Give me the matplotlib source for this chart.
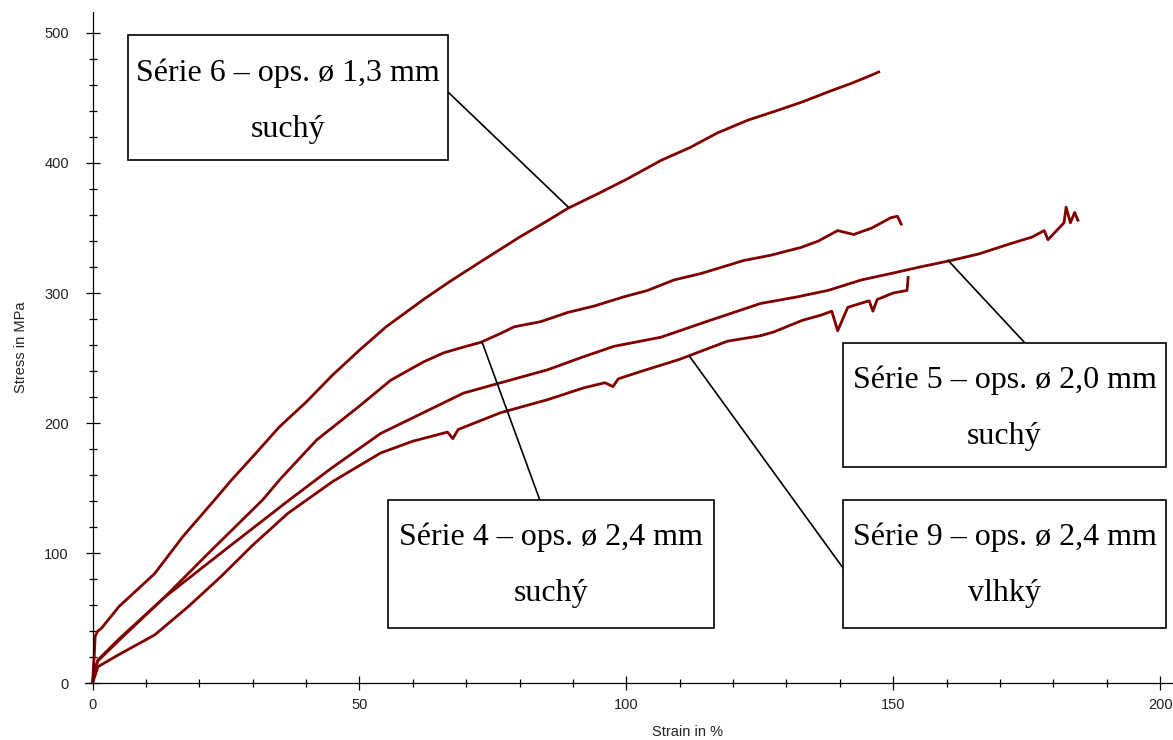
import matplotlib
matplotlib.use('Agg')
import matplotlib.pyplot as plt
from matplotlib.patches import Rectangle
from matplotlib.ticker import MultipleLocator

# Série 6 - ops. 1,3 mm suchý
strain_s6 = [0, 0.3, 0.5, 1.0, 1.65, 5, 11.6, 17, 22.9, 26, 30, 35, 40, 45, 50, 55, 62, 67, 72.7,
             80, 85, 89, 95, 100.3, 106.5, 112, 117, 122.8, 128, 133, 138, 142, 145, 147.3]
stress_s6 = [0, 20, 36, 40, 42, 59, 84, 113, 141, 156, 174, 197, 216, 237, 256, 274, 295, 309, 324,
             343, 355, 365, 377, 388, 402, 412, 423, 433, 440, 447, 455, 461, 466, 470]

# Série 4 - ops. 2,4 mm suchý
strain_s4 = [0, 0.3, 1, 5, 13.5, 22, 31.9, 35.2, 42, 50, 55.9, 62, 65.8, 70, 72.7, 76.5, 79, 84, 89,
             94, 99.5, 104, 108.9, 114, 122, 127, 132.7, 136, 139.6, 142.6, 146, 149.6, 150.8, 151.5]
stress_s4 = [0, 8, 17.7, 34, 66, 101, 141, 157, 187, 213, 233, 247, 254, 259, 262, 269, 274, 278, 285,
             290, 297, 302, 310, 315, 325, 329, 335, 340, 348, 345, 350, 358, 359, 353]

# Série 5 - ops. 2,0 mm suchý
strain_s5 = [0, 0.3, 1, 5, 13.5, 25, 36.6, 45, 54, 62, 69.5, 76.5, 85.3, 92, 97.7, 106.5, 115, 125.2,
             132, 137.8, 144, 149.6, 155, 160.8, 166, 172, 176, 178.3, 179, 182, 182.4, 183.2, 184, 184.6]
stress_s5 = [0, 8, 17, 33, 66, 103, 140, 166, 192, 208, 223, 231, 241, 251, 259, 266, 278, 292,
             297, 302, 310, 315, 320, 325, 330, 338, 343, 348, 341, 354, 366, 354, 362, 356]

# Série 9 - ops. 2,4 mm vlhký
strain_s9 = [0, 0.5, 1, 5, 11.65, 18, 24.1, 30, 36.6, 45, 54, 60, 66.5, 67.5, 68.5, 76.5, 85.3, 92, 96,
             97.5, 98.5, 103, 110, 119, 125, 127.6, 133, 136.5, 138.5, 139.6, 141.5, 145.5, 146.2, 147,
             150, 152.6, 152.8]
stress_s9 = [0, 6, 12.5, 22, 37, 59, 82, 106, 130.5, 155, 177, 186, 193, 188, 195, 208, 218, 227, 231,
             228, 234, 240, 249, 263, 267, 270, 279, 283, 286, 271, 289, 294, 286, 295,
             300, 302, 312]

labels = [('Série 6 – ops. ø 1,3 mm', 'suchý'),
          ('Série 5 – ops. ø 2,0 mm', 'suchý'),
          ('Série 4 – ops. ø 2,4 mm', 'suchý'),
          ('Série 9 – ops. ø 2,4 mm', 'vlhký')]

fig = plt.figure(figsize=(11.73, 7.4), dpi=100)
ax = fig.add_axes([0.0725, 0.077, 0.9274, 0.9074])

for x, y in [(strain_s6, stress_s6), (strain_s4, stress_s4), (strain_s5, stress_s5), (strain_s9, stress_s9)]:
    ax.plot(x, y, color='#800000', lw=2.0, solid_joinstyle='round')

ax.set_xlim(-1.4, 202.4)
ax.set_ylim(0, 516.5)
ax.spines['left'].set_position(('data', 0))
ax.spines['top'].set_visible(False)
ax.spines['right'].set_visible(False)
for s in ['left', 'bottom']:
    ax.spines[s].set_linewidth(0.9)

ax.xaxis.set_major_locator(MultipleLocator(50))
ax.xaxis.set_minor_locator(MultipleLocator(10))
ax.yaxis.set_major_locator(MultipleLocator(100))
ax.yaxis.set_minor_locator(MultipleLocator(20))
ax.tick_params(which='major', direction='inout', length=10, width=0.9, labelsize=10.5)
ax.tick_params(which='minor', direction='inout', length=6, width=0.9)
ax.tick_params(axis='y', pad=12)
ax.tick_params(axis='x', pad=6)
for t in ax.get_xticklabels() + ax.get_yticklabels():
    t.set_family('Liberation Sans')
    t.set_color('#222222')

ax.set_xlabel('Strain in %', fontsize=10.5, family='Liberation Sans', color='#222222')
ax.set_ylabel('Stress in MPa', fontsize=10.5, family='Liberation Sans', color='#222222')
ax.xaxis.set_label_coords(0.554, -0.062)
ax.yaxis.set_label_coords(-0.052, 0.5)


def label_box(x0, y0, x1, y1, lines, ys, start, end):
    ax.add_patch(Rectangle((x0, y0), x1 - x0, y1 - y0, facecolor='white', edgecolor='black',
                           lw=1.2, zorder=3, clip_on=False))
    for t, y in zip(lines, ys):
        ax.text((x0 + x1) / 2, y, t, ha='center', va='center', fontsize=23,
                family='Liberation Serif', zorder=4)
    ax.plot([start[0], end[0]], [start[1], end[1]], color='black', lw=1.2, zorder=2)


label_box(6.65, 402.3, 66.6, 498.5, labels[0], [469, 426], (66.6, 454.6), (89.1, 366.2))
label_box(140.6, 166.2, 201.1, 261.5, labels[1], [233, 190], (174.7, 261.5), (160.3, 325))
label_box(55.4, 42.3, 116.4, 140.8, labels[2], [112, 69], (83.8, 140.8), (73.0, 262))
label_box(140.6, 42.3, 201.1, 140.8, labels[3], [112, 69], (140.6, 88.5), (111.9, 251))

fig.savefig('out.png', dpi=100)
